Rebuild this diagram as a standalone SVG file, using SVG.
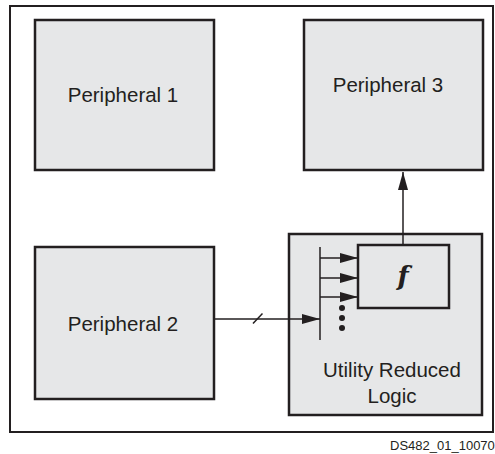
<svg xmlns="http://www.w3.org/2000/svg" width="495" height="454" viewBox="0 0 495 454">
<style>
.box{fill:#e6e7e8;stroke:#231f20;stroke-width:2.5}
.lbl{font-family:"Liberation Sans",Arial,sans-serif;font-size:20.5px;fill:#231f20;text-anchor:middle}
.fn{font-family:"DejaVu Serif","Liberation Serif",serif;font-style:italic;font-weight:bold;font-size:26px;fill:#231f20;text-anchor:middle}
.ln{stroke:#231f20;stroke-width:1.5;fill:none}
</style>
<defs>
<marker id="ah" viewBox="0 0 18 10" refX="18" refY="5" markerWidth="18" markerHeight="10" markerUnits="userSpaceOnUse" orient="auto">
<path d="M0,0 L18,5 L0,10 Z" fill="#231f20"/>
</marker>
</defs>
<rect x="10" y="6" width="483" height="426" fill="#fff" stroke="#231f20" stroke-width="2"/>
<g id="peripheral1">
<rect class="box" x="35" y="20" width="179" height="150"/>
<text class="lbl" x="123" y="102">Peripheral 1</text>
</g>
<g id="peripheral3">
<rect class="box" x="304" y="20" width="179" height="150"/>
<text class="lbl" x="388" y="92">Peripheral 3</text>
</g>
<g id="peripheral2">
<rect class="box" x="35" y="247" width="179" height="152"/>
<text class="lbl" x="123" y="331">Peripheral 2</text>
</g>
<g id="ulr">
<rect class="box" x="289" y="234" width="193" height="181"/>
<text class="lbl" x="392" y="377">Utility Reduced</text>
<text class="lbl" x="392" y="403">Logic</text>
</g>
<g id="f">
<rect class="box" x="358" y="245" width="91" height="63"/>
<text class="fn" x="403" y="285">f</text>
</g>
<g id="connectors">
<line class="ln" x1="403" y1="245" x2="403" y2="172" marker-end="url(#ah)"/>
<line class="ln" x1="214" y1="319" x2="320" y2="319" marker-end="url(#ah)"/>
<line class="ln" x1="253" y1="323.5" x2="262.5" y2="313.5"/>
<line class="ln" x1="320" y1="247" x2="320" y2="340"/>
<line class="ln" x1="320" y1="258" x2="358" y2="258" marker-end="url(#ah)"/>
<line class="ln" x1="320" y1="278" x2="358" y2="278" marker-end="url(#ah)"/>
<line class="ln" x1="320" y1="297" x2="358" y2="297" marker-end="url(#ah)"/>
<circle cx="342" cy="308" r="3" fill="#231f20"/>
<circle cx="342" cy="318" r="3" fill="#231f20"/>
<circle cx="342" cy="328" r="3" fill="#231f20"/>
</g>
<text x="390" y="450" font-family="'Liberation Sans',Arial,sans-serif" font-size="13" fill="#231f20">DS482_01_10070</text>
</svg>
